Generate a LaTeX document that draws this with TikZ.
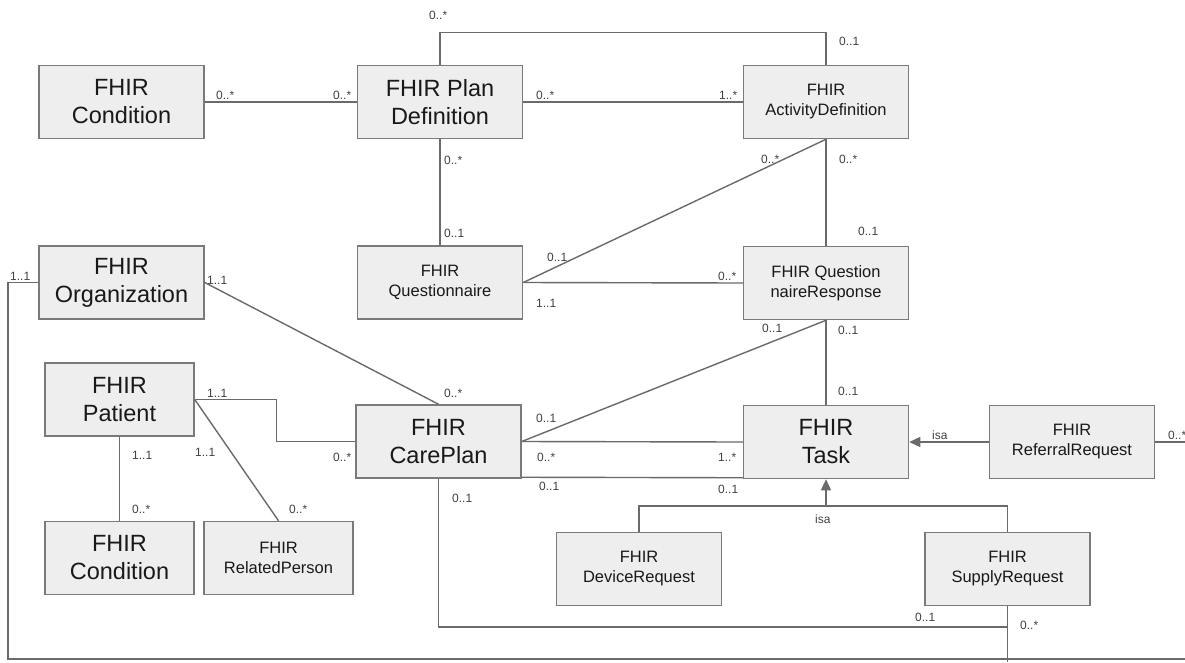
\documentclass[tikz,border=0pt]{standalone}
\usepackage{fontspec}
\setmainfont{Liberation Sans}
\usetikzlibrary{arrows.meta}
\definecolor{boxfill}{HTML}{EEEEEE}
\definecolor{boxline}{HTML}{7A7A7A}
\definecolor{wirecol}{HTML}{6A6A6A}
\definecolor{lblcol}{HTML}{404040}
\begin{document}
\begin{tikzpicture}[x=1pt,y=-1pt,
  big/.style={draw=boxline, fill=boxfill, line width=1.5pt, minimum width=165pt,
    minimum height=73pt, inner sep=0pt, align=center,
    font=\fontsize{23.5}{28}\selectfont, text=black!90},
  small/.style={big, font=\fontsize{16.5}{20}\selectfont},
  wire/.style={draw=wirecol, line width=1.4pt},
  mult/.style={anchor=west, inner sep=0pt, font=\fontsize{12}{14}\selectfont, text=lblcol},
  isa/.style={wire, -{Triangle[length=11pt,width=10pt]}}
]
\useasboundingbox (0,0) rectangle (1185,662);

% classes
\node[big] (cond1) at (121.5,102) {FHIR\\Condition};
\node[big] (pd) at (440,102) {FHIR Plan\\Definition};
\node[small] (ad) at (826,102) {FHIR\\ActivityDefinition};
\node[big] (org) at (121.5,282.5) {FHIR\\Organization};
\node[small] (quest) at (440,282.5) {FHIR\\Questionnaire};
\node[small] (qr) at (826,283) {FHIR Question\\naireResponse};
\node[big, minimum width=149pt] (patient) at (119.5,399.5) {FHIR\\Patient};
\node[big] (careplan) at (438.5,441.5) {FHIR\\CarePlan};
\node[big] (task) at (826,442) {FHIR\\Task};
\node[small] (referral) at (1072,442) {FHIR\\ReferralRequest};
\node[big, minimum width=149pt] (cond2) at (119.5,558) {FHIR\\Condition};
\node[small, minimum width=149pt] (related) at (278.5,558) {FHIR\\RelatedPerson};
\node[small] (device) at (639,569) {FHIR\\DeviceRequest};
\node[small] (supply) at (1007.5,569) {FHIR\\SupplyRequest};

% free ends and junctions
\coordinate (railL) at (8,659);
\coordinate (railR) at (1185,659);
\coordinate (isaj) at (826,506);
\coordinate (cpjoin) at (1007.5,627);
\coordinate (bottomEnd) at (1007.5,662);
\coordinate (refEnd) at (1185,442);

% associations
\draw[wire] (cond1.east) -- (pd.west);
\draw[wire] (pd.east) -- (ad.west);
\draw[wire] (pd.north) -- ++(0,-32) -| (ad.north);
\draw[wire] (pd.south) -- (quest.north);
\draw[wire] (ad.south) -- (quest.east);
\draw[wire] (ad.south) -- (qr.north);
\draw[wire] (quest.east) -- (qr.west);
\draw[wire] (org.east) -- (careplan.north);
\draw[wire] (org.west) -| (railL) -- (railR);
\draw[wire] (patient.east) -- ++(82,0) |- (careplan.west);
\draw[wire] (patient.east) -- (related.north);
\draw[wire] (patient.south) -- (cond2.north);
\draw[wire] (careplan.east) -- (qr.south);
\draw[wire] (careplan.east) -- (task.west);
\draw[wire] ([yshift=1.5pt]careplan.south east) -- ([yshift=1.5pt]task.south west);
\draw[wire] (qr.south) -- (task.north);
\draw[wire] (careplan.south) |- (cpjoin);
\draw[wire] (supply.south) -- (bottomEnd);
\draw[wire] (referral.east) -- (refEnd);

% generalisations
\draw[isa] (referral.west) -- (task.east);
\draw[isa] (isaj) -- (task.south);
\draw[wire] (device.north) |- (isaj) -| (supply.north);

% multiplicities
\node[mult] (m1) at (429,15) {0..*};
\node[mult] (m2) at (839,41) {0..1};
\node[mult] (m3) at (216,95) {0..*};
\node[mult] (m4) at (333,95) {0..*};
\node[mult] (m5) at (536,95) {0..*};
\node[mult] (m6) at (719,95) {1..*};
\node[mult] (m7) at (444,160) {0..*};
\node[mult] (m8) at (761,159) {0..*};
\node[mult] (m9) at (839,159) {0..*};
\node[mult] (m10) at (444,233) {0..1};
\node[mult] (m11) at (858,231) {0..1};
\node[mult] (m12) at (547,257) {0..1};
\node[mult] (m13) at (718,276) {0..*};
\node[mult] (m14) at (536,303) {1..1};
\node[mult] (m15) at (10,276) {1..1};
\node[mult] (m16) at (207,280) {1..1};
\node[mult] (m17) at (444,393) {0..*};
\node[mult] (m18) at (207,393) {1..1};
\node[mult] (m19) at (536,418) {0..1};
\node[mult] (m20) at (762,328) {0..1};
\node[mult] (m21) at (838,330) {0..1};
\node[mult] (m22) at (838,391) {0..1};
\node[mult] (m23) at (932,435) {isa};
\node[mult] (m24) at (1168,435) {0..*};
\node[mult] (m25) at (333,457) {0..*};
\node[mult] (m26) at (537,457) {0..*};
\node[mult] (m27) at (718,457) {1..*};
\node[mult] (m28) at (539,486) {0..1};
\node[mult] (m29) at (718,489) {0..1};
\node[mult] (m30) at (452,498) {0..1};
\node[mult] (m31) at (815,519) {isa};
\node[mult] (m32) at (132,455) {1..1};
\node[mult] (m33) at (195,452) {1..1};
\node[mult] (m34) at (132,509) {0..*};
\node[mult] (m35) at (289,509) {0..*};
\node[mult] (m36) at (915,617) {0..1};
\node[mult] (m37) at (1020,625) {0..*};
\end{tikzpicture}
\end{document}
